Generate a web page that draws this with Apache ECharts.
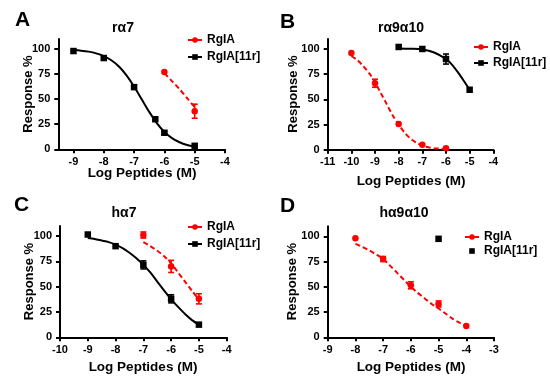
<!DOCTYPE html>
<html><head><meta charset="utf-8">
<script src="https://cdn.jsdelivr.net/npm/echarts@6/dist/echarts.min.js"></script>
<style>html,body{margin:0;padding:0;background:#fff}#c{width:550px;height:391px}</style>
</head><body><div id="c"></div>
<script>
// ---------- Data ----------
const panelTitles = ['rα7', 'rα9α10', 'hα7', 'hα9α10'];
const panelLetters = ['A', 'B', 'C', 'D'];
const xLabel = 'Log Peptides (M)';
const yLabel = 'Response %';
const yTicks = [0, 25, 50, 75, 100];
const xTicksA = [-9, -8, -7, -6, -5, -4];
const xTicksB = [-11, -10, -9, -8, -7, -6, -5, -4];
const xTicksC = [-10, -9, -8, -7, -6, -5, -4];
const xTicksD = [-9, -8, -7, -6, -5, -4, -3];

// Panel A (rα7)
const A_11r_x = [-9, -8, -7, -6.3, -6, -5];
const A_11r_y = [98, 91, 62, 30, 16.5, 3.5];
const A_11r_err = [0, 0, 2, 0, 1.5, 0];
const A_rg_x = [-6, -5];
const A_rg_y = [77, 38];
const A_rg_err = [0, 7];
const A_11r_fitX = [-9, -8.75, -8.5, -8.25, -8, -7.75, -7.5, -7.25, -7, -6.75, -6.5, -6.25, -6, -5.75, -5.5, -5.25, -5];
const A_11r_fitY = [99, 98.4, 97.4, 95.7, 93, 88.8, 82.6, 73.8, 62.7, 50, 37.3, 26.2, 17.4, 11.2, 7, 4.3, 2.8];
const A_rg_fitX = [-6, -5.75, -5.5, -5.25, -5];
const A_rg_fitY = [76, 68, 60, 51, 42];

// Panel B (rα9α10)
const B_rg_x = [-10, -9, -8, -7, -6];
const B_rg_y = [96, 66, 25.5, 4.8, 1.4];
const B_rg_err = [0, 4, 0, 0, 0];
const B_11r_x = [-8, -7, -6, -5];
const B_11r_y = [102, 100, 90, 59.5];
const B_11r_err = [0, 0, 5, 0];
const B_rg_fitX = [-10, -9.75, -9.5, -9.25, -9, -8.75, -8.5, -8.25, -8, -7.75, -7.5, -7.25, -7, -6.75, -6.5, -6.25, -6];
const B_rg_fitY = [93, 89, 83, 76, 67, 56, 45, 34, 25, 17, 11, 7, 4, 2.5, 1.5, 1, 0.5];
const B_11r_fitX = [-8, -7.5, -7, -6.5, -6, -5.75, -5.5, -5.25, -5];
const B_11r_fitY = [100.5, 100.2, 99.5, 96.5, 90, 84.5, 77, 68.5, 59.5];

// Panel C (hα7)
const C_11r_x = [-9, -8, -7, -6, -5];
const C_11r_y = [101.5, 90, 71.5, 38, 12.5];
const C_11r_err = [0, 0, 4, 4, 0];
const C_rg_x = [-7, -6, -5];
const C_rg_y = [101, 70, 38];
const C_rg_err = [3, 6, 5];
const C_11r_fitX = [-9, -8.75, -8.5, -8.25, -8, -7.75, -7.5, -7.25, -7, -6.75, -6.5, -6.25, -6, -5.75, -5.5, -5.25, -5];
const C_11r_fitY = [98, 97, 95.5, 94, 91.5, 88, 83.5, 78, 71.5, 64, 55, 46, 37.5, 30, 23, 17, 12.5];
const C_rg_fitX = [-7, -6.75, -6.5, -6.25, -6, -5.75, -5.5, -5.25, -5];
const C_rg_fitY = [94, 90, 85.5, 80, 73, 64, 55, 46, 37];

// Panel D (hα9α10)
const D_rg_x = [-8, -7, -6, -5, -4];
const D_rg_y = [98, 77.5, 51.5, 33, 11.2];
const D_rg_err = [0, 2.5, 3.5, 3, 0];
const D_11r_x = [-5];
const D_11r_y = [97.5];
const D_rg_fitX = [-8, -7.75, -7.5, -7.25, -7, -6.75, -6.5, -6.25, -6, -5.75, -5.5, -5.25, -5, -4.75, -4.5, -4.25, -4];
const D_rg_fitY = [92.5, 89.5, 86, 82, 77.5, 71, 64, 57, 50, 44, 38.5, 33, 28.5, 23.5, 18.5, 14.5, 11.5];

// ---------- Styles ----------
const F = '"Liberation Sans", Arial, sans-serif';
const RED = '#ff0000';
const BLK = '#000000';
const S1 = 'RgIA';
const S2 = 'RgIA[11r]';

const zip = (xs, ys) => xs.map((x, i) => [x, ys[i]]);
const errData = (xs, ys, es) => xs.map((x, i) => [x, ys[i] - es[i], ys[i] + es[i]]).filter((d, i) => es[i] > 0);

const grids = [
  { left: 58.3, top: 39, width: 166.7, height: 110.3 },
  { left: 327.7, top: 38.9, width: 165.6, height: 110.8 },
  { left: 60, top: 225.9, width: 166.7, height: 111.4 },
  { left: 327.7, top: 226.2, width: 166.3, height: 111.1 }
];
const xRanges = [[-9.5, -4, xTicksA], [-11, -4, xTicksB], [-10, -4, xTicksC], [-9, -3, xTicksD]];

const axisCommon = {
  axisLine: { show: true, onZero: false, lineStyle: { color: BLK, width: 2 } },
  splitLine: { show: false }
};
const xAxis = xRanges.map((r, i) => Object.assign({}, axisCommon, {
  gridIndex: i, type: 'value', min: r[0], max: r[1],
  axisTick: { show: true, length: 4, lineStyle: { color: BLK, width: 2 }, customValues: r[2] },
  axisLabel: { customValues: r[2], margin: 7, fontSize: 11, fontWeight: 'bold', color: BLK, fontFamily: F }
}));
const yAxis = grids.map((g, i) => Object.assign({}, axisCommon, {
  gridIndex: i, type: 'value', min: 0, max: 110,
  axisTick: { show: true, length: 4, lineStyle: { color: BLK, width: 2 }, customValues: yTicks },
  axisLabel: { customValues: yTicks, margin: 8, fontSize: 11, fontWeight: 'bold', color: BLK, fontFamily: F }
}));

function fit(i, xs, ys, color, dashed) {
  return {
    type: 'line', name: (color === RED ? 'fitR' : 'fitB') + i, xAxisIndex: i, yAxisIndex: i,
    data: zip(xs, ys), showSymbol: false, symbol: 'none', smooth: 0.3, silent: true,
    lineStyle: { color, width: 2, type: dashed ? [5, 3] : 'solid' }, z: 2
  };
}
function pts(i, name, xs, ys, color, symbol) {
  return {
    type: 'line', name, xAxisIndex: i, yAxisIndex: i, data: zip(xs, ys),
    symbol, symbolSize: symbol === 'circle' ? 6.5 : 6.5, showSymbol: true,
    itemStyle: { color }, lineStyle: { opacity: 0, width: 0, color }, z: 4, silent: true
  };
}
function errs(i, xs, ys, es, color) {
  return {
    type: 'custom', name: 'err' + i + color, xAxisIndex: i, yAxisIndex: i,
    data: errData(xs, ys, es), encode: { x: 0, y: [1, 2] }, z: 5, silent: true,
    renderItem: (params, api) => {
      const x = api.value(0);
      const p1 = api.coord([x, api.value(1)]);
      const p2 = api.coord([x, api.value(2)]);
      const w = 3;
      const st = { stroke: color, lineWidth: 1.6 };
      return { type: 'group', children: [
        { type: 'line', shape: { x1: p1[0], y1: p1[1], x2: p2[0], y2: p2[1] }, style: st },
        { type: 'line', shape: { x1: p1[0] - w, y1: p1[1], x2: p1[0] + w, y2: p1[1] }, style: st },
        { type: 'line', shape: { x1: p2[0] - w, y1: p2[1], x2: p2[0] + w, y2: p2[1] }, style: st }
      ] };
    }
  };
}

const series = [
  fit(0, A_11r_fitX, A_11r_fitY, BLK, false), fit(0, A_rg_fitX, A_rg_fitY, RED, true),
  pts(0, S1, A_rg_x, A_rg_y, RED, 'circle'), pts(0, S2, A_11r_x, A_11r_y, BLK, 'rect'),
  errs(0, A_rg_x, A_rg_y, A_rg_err, RED), errs(0, A_11r_x, A_11r_y, A_11r_err, BLK),

  fit(1, B_11r_fitX, B_11r_fitY, BLK, false), fit(1, B_rg_fitX, B_rg_fitY, RED, true),
  pts(1, S1, B_rg_x, B_rg_y, RED, 'circle'), pts(1, S2, B_11r_x, B_11r_y, BLK, 'rect'),
  errs(1, B_rg_x, B_rg_y, B_rg_err, RED), errs(1, B_11r_x, B_11r_y, B_11r_err, BLK),

  fit(2, C_11r_fitX, C_11r_fitY, BLK, false), fit(2, C_rg_fitX, C_rg_fitY, RED, true),
  pts(2, S1, C_rg_x, C_rg_y, RED, 'circle'), pts(2, S2, C_11r_x, C_11r_y, BLK, 'rect'),
  errs(2, C_rg_x, C_rg_y, C_rg_err, RED), errs(2, C_11r_x, C_11r_y, C_11r_err, BLK),

  fit(3, D_rg_fitX, D_rg_fitY, RED, true),
  pts(3, S1, D_rg_x, D_rg_y, RED, 'circle'), pts(3, S2, D_11r_x, D_11r_y, BLK, 'rect'),
  errs(3, D_rg_x, D_rg_y, D_rg_err, RED)
];

const legTxt = { fontFamily: F, fontWeight: 'bold', fontSize: 12, color: BLK };
function leg(left, top, gap, noLine2) {
  return {
    left, top, orient: 'vertical', itemWidth: 14, itemHeight: 7, itemGap: gap,
    selectedMode: false, textStyle: legTxt, padding: 0,
    data: [
      { name: S1, lineStyle: { opacity: 1, width: 2, type: 'solid', color: RED } },
      { name: S2, lineStyle: { opacity: noLine2 ? 0 : 1, width: 2, type: 'solid', color: BLK } }
    ]
  };
}
const legend = [
  leg(187, 34, 5, false),
  leg(473, 41, 4, false),
  leg(187, 221, 5, false),
  leg(464, 231, 2, true)
];

function txt(x, y, text, size, rot) {
  return { type: 'text', x, y, rotation: rot || 0, silent: true,
    style: { text, fill: BLK, font: 'bold ' + size + 'px ' + F, align: 'center', verticalAlign: 'middle' } };
}
const graphic = [
  txt(22.5, 20.5, panelLetters[0], 21), txt(287.5, 22.5, panelLetters[1], 21),
  txt(21.5, 205.5, panelLetters[2], 21), txt(287.5, 206, panelLetters[3], 21),
  txt(123, 28, panelTitles[0], 14), txt(401, 28, panelTitles[1], 14),
  txt(124, 213, panelTitles[2], 14), txt(404, 213, panelTitles[3], 14),
  txt(142, 173.5, xLabel, 13.5), txt(411, 181.5, xLabel, 13.5),
  txt(143, 367, xLabel, 13.5), txt(411, 367, xLabel, 13.5),
  txt(28.5, 94, yLabel, 13, Math.PI / 2), txt(293, 94, yLabel, 13, Math.PI / 2),
  txt(29.5, 281.5, yLabel, 13, Math.PI / 2), txt(292.5, 281.5, yLabel, 13, Math.PI / 2)
];

const chart = echarts.init(document.getElementById('c'), null, { renderer: 'canvas' });
chart.setOption({
  animation: false, backgroundColor: '#ffffff',
  grid: grids, xAxis, yAxis, series, legend, graphic
});
</script>
</body></html>
